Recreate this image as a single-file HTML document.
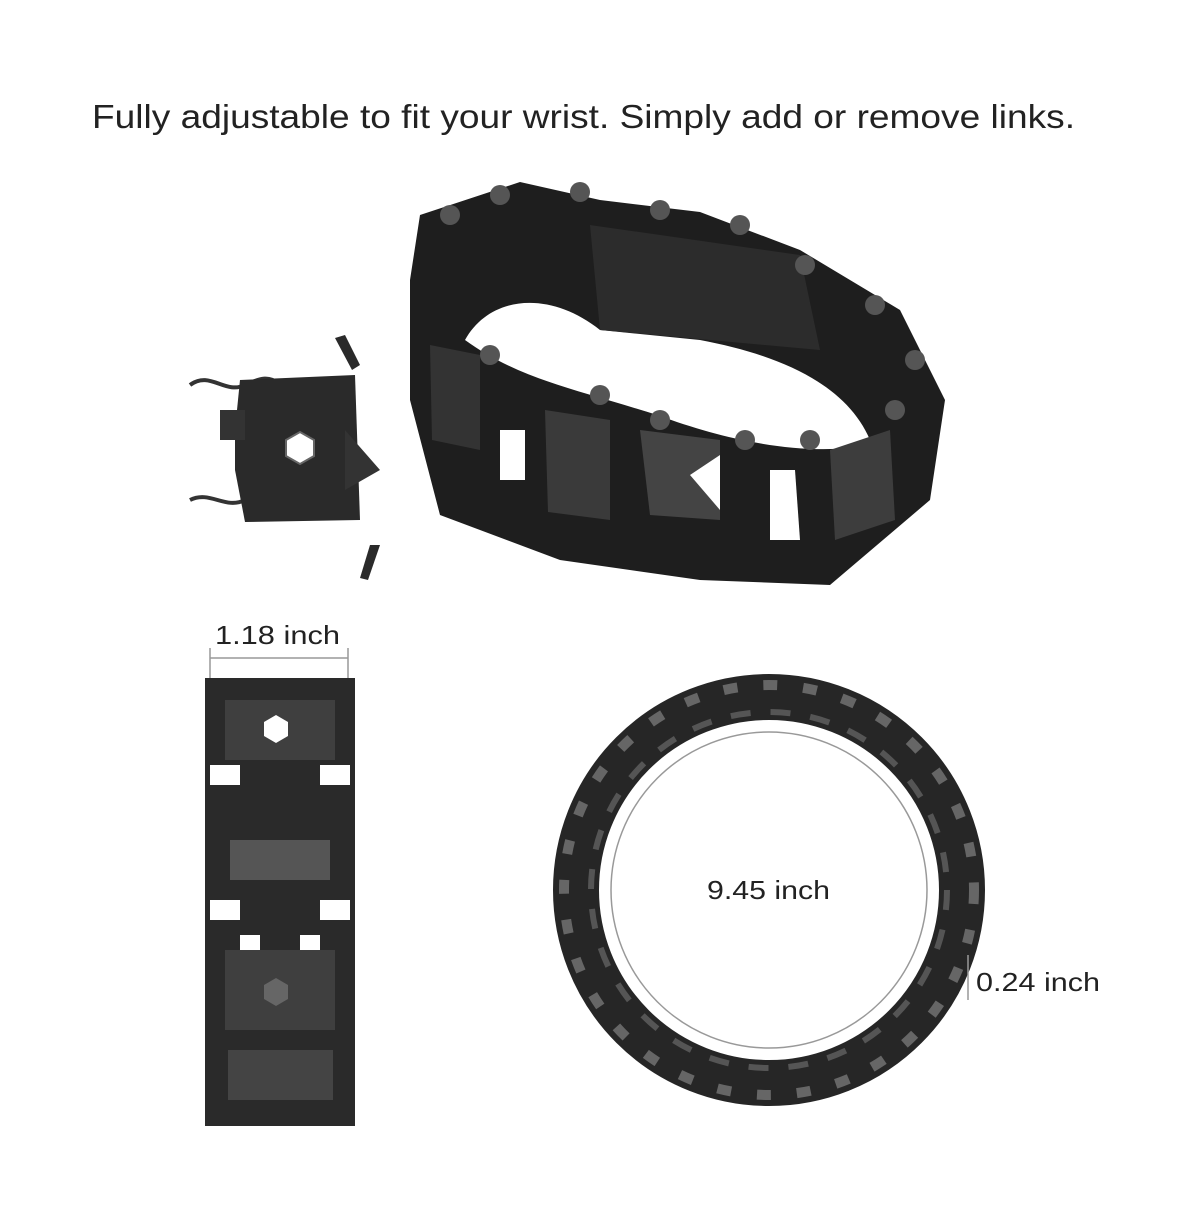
<!DOCTYPE html>
<html><head><meta charset="utf-8"><style>
body{margin:0;background:#fff;width:1200px;height:1200px;overflow:hidden;font-family:"Liberation Sans",sans-serif}
</style></head><body>
<svg width="1200" height="1200" viewBox="0 0 1200 1200" xmlns="http://www.w3.org/2000/svg">
<rect width="1200" height="1200" fill="#fff"/>
<text x="92" y="128" font-size="33" fill="#222" textLength="983" lengthAdjust="spacingAndGlyphs" font-family="Liberation Sans, sans-serif">Fully adjustable to fit your wrist. Simply add or remove links.</text>

<!-- top bracelet -->
<path d="M420 215 L520 182 L600 200 L700 212 L800 250 L900 310 L945 400 L930 500 L830 585 L700 580 L560 560 L440 515 L410 400 L410 280 Z" fill="#1e1e1e"/>
<path d="M465 340 C490 295 550 290 600 330 L700 340 C780 355 850 385 872 445 C800 458 720 438 660 416 C580 390 520 380 465 340 Z" fill="#fff"/>
<path d="M590 225 L800 255 L820 350 L600 330 Z" fill="#2c2c2c"/>
<path d="M430 345 L480 355 L480 450 L432 440 Z" fill="#333"/>
<path d="M545 410 L610 420 L610 520 L548 512 Z" fill="#3a3a3a"/>
<path d="M640 430 L720 440 L720 520 L650 515 Z" fill="#444"/>
<path d="M690 475 L720 455 L720 510 Z" fill="#fff"/>
<path d="M830 450 L890 430 L895 520 L835 540 Z" fill="#3d3d3d"/>
<path d="M770 470 L795 470 L800 540 L770 540 Z" fill="#fff"/>
<path d="M500 430 L525 430 L525 480 L500 480 Z" fill="#fff"/>
<g fill="#555">
<circle cx="450" cy="215" r="10"/><circle cx="500" cy="195" r="10"/><circle cx="580" cy="192" r="10"/><circle cx="660" cy="210" r="10"/><circle cx="740" cy="225" r="10"/><circle cx="805" cy="265" r="10"/><circle cx="875" cy="305" r="10"/><circle cx="915" cy="360" r="10"/>
<circle cx="490" cy="355" r="10"/><circle cx="600" cy="395" r="10"/><circle cx="660" cy="420" r="10"/><circle cx="745" cy="440" r="10"/><circle cx="810" cy="440" r="10"/><circle cx="895" cy="410" r="10"/>
</g>

<!-- left small link -->
<g stroke="#333" stroke-width="4" fill="none">
<path d="M190 385 C210 370 225 395 245 385 C260 378 270 375 280 385"/>
<path d="M190 500 C210 490 225 510 245 500 C260 495 270 495 280 505"/>
</g>
<path d="M240 380 L355 375 L360 520 L245 522 L235 470 L235 430 Z" fill="#2a2a2a"/>
<path d="M220 410 L245 410 L245 440 L220 440 Z" fill="#333"/>
<polygon points="286,440 300,432 314,440 314,456 300,464 286,456" fill="#fff" stroke="#666" stroke-width="2"/>
<path d="M345 430 L380 470 L345 490 Z" fill="#333"/>
<path d="M335 338 L345 335 L360 365 L352 370 Z" fill="#2a2a2a"/>
<path d="M370 545 L380 545 L368 580 L360 578 Z" fill="#2a2a2a"/>

<!-- dimension 1.18 -->
<text x="215" y="644" font-size="26" fill="#222" textLength="125" lengthAdjust="spacingAndGlyphs">1.18 inch</text>
<line x1="210" y1="658" x2="348" y2="658" stroke="#999" stroke-width="1.5"/>
<line x1="210" y1="648" x2="210" y2="680" stroke="#999" stroke-width="1.5"/>
<line x1="348" y1="648" x2="348" y2="680" stroke="#999" stroke-width="1.5"/>

<!-- vertical band -->
<rect x="205" y="678" width="150" height="448" fill="#2a2a2a"/>
<rect x="225" y="700" width="110" height="60" fill="#3f3f3f"/>
<rect x="230" y="840" width="100" height="40" fill="#555"/>
<rect x="225" y="950" width="110" height="80" fill="#3f3f3f"/>
<rect x="228" y="1050" width="105" height="50" fill="#444"/>
<g fill="#fff"><rect x="210" y="765" width="30" height="20"/><rect x="320" y="765" width="30" height="20"/><rect x="210" y="900" width="30" height="20"/><rect x="320" y="900" width="30" height="20"/><rect x="240" y="935" width="20" height="15"/><rect x="300" y="935" width="20" height="15"/></g>
<polygon points="264,722 276,715 288,722 288,736 276,743 264,736" fill="#fff"/>
<polygon points="264,985 276,978 288,985 288,999 276,1006 264,999" fill="#666"/>

<!-- ring -->
<circle cx="769" cy="890" r="158" fill="none" stroke="#999" stroke-width="1.5"/>
<circle cx="769" cy="890" r="193" fill="none" stroke="#262626" stroke-width="46"/>
<circle cx="769" cy="890" r="205" fill="none" stroke="#666" stroke-width="10" stroke-dasharray="14 26"/>
<circle cx="769" cy="890" r="178" fill="none" stroke="#555" stroke-width="6" stroke-dasharray="20 20"/>
<text x="707" y="899" font-size="26" fill="#222" textLength="123" lengthAdjust="spacingAndGlyphs">9.45 inch</text>
<line x1="968" y1="955" x2="968" y2="1000" stroke="#999" stroke-width="1.5"/>
<text x="976" y="991" font-size="26" fill="#222" textLength="124" lengthAdjust="spacingAndGlyphs">0.24 inch</text>
</svg>
</body></html>
